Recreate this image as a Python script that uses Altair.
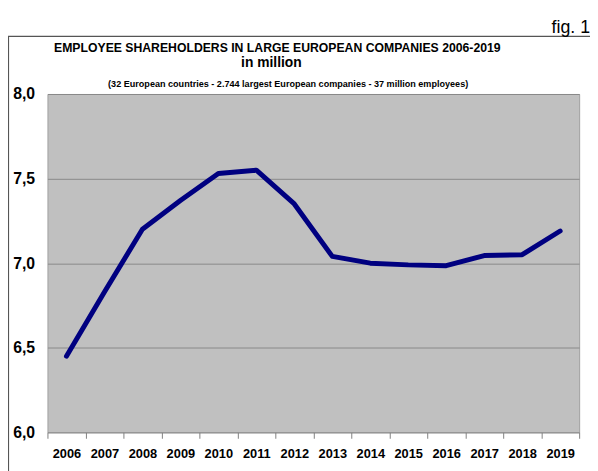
import altair as alt
import pandas as pd

years = [str(y) for y in range(2006, 2020)]
values = [6.45, 6.83, 7.20, 7.37, 7.53, 7.55, 7.35, 7.04, 7.00, 6.99, 6.985, 7.045, 7.05, 7.19]

title_lines = [
    "EMPLOYEE  SHAREHOLDERS IN LARGE EUROPEAN COMPANIES 2006-2019",
    "in million",
    "(32 European countries - 2.744 largest European companies - 37 million employees)",
]
fig_label = "fig. 1"

df = pd.DataFrame({"year": years, "value": values})

FONT = "Liberation Sans, Arial"

W, H = 539, 343

base = alt.Chart(df)

line = base.mark_line(color="#000080", strokeWidth=5, strokeCap="round", strokeJoin="round").encode(
    x=alt.X(
        "year:O",
        bandPosition=0.5,
        scale=alt.Scale(type="band", paddingInner=0, paddingOuter=0),
        axis=alt.Axis(
            title=None,
            labelFont=FONT,
            labelFontSize=13,
            labelFontWeight="bold",
            labelColor="#000000",
            labelAngle=0,
            labelPadding=9,
            tickBand="extent",
            tickSize=6,
            tickColor="#808080",
            domain=False,
            grid=False,
        ),
    ),
    y=alt.Y(
        "value:Q",
        scale=alt.Scale(domain=[6.0, 8.0], nice=False, zero=False),
        axis=alt.Axis(
            title=None,
            values=[6.0, 6.5, 7.0, 7.5, 8.0],
            labelExpr="replace(format(datum.value, '.1f'), '.', ',')",
            labelFont=FONT,
            labelFontSize=16,
            labelFontWeight="bold",
            labelColor="#000000",
            labelPadding=13,
            ticks=False,
            domain=False,
            grid=True,
            gridColor="#888888",
            gridWidth=1,
        ),
    ),
)

texts_df = pd.DataFrame({"t": [0]})
t1 = alt.Chart(texts_df).mark_text(
    text=title_lines[0], font=FONT, fontSize=12.4, fontWeight="bold", color="#000", align="center", baseline="alphabetic"
).encode(x=alt.value(233), y=alt.value(-43))
t2 = alt.Chart(texts_df).mark_text(
    text=title_lines[1], font=FONT, fontSize=14, fontWeight="bold", color="#000", align="center", baseline="alphabetic"
).encode(x=alt.value(227), y=alt.value(-27))
t3 = alt.Chart(texts_df).mark_text(
    text=title_lines[2], font=FONT, fontSize=9.2, fontWeight="bold", color="#000", align="center", baseline="alphabetic"
).encode(x=alt.value(244), y=alt.value(-7))
t4 = alt.Chart(texts_df).mark_text(
    text=fig_label, font=FONT, fontSize=18, color="#000", align="right", baseline="alphabetic"
).encode(x=alt.value(550), y=alt.value(-62))

border = alt.Chart(texts_df).mark_rect(fill=None, stroke="#555555", strokeWidth=1.2).encode(
    x=alt.value(-39.5), x2=alt.value(560), y=alt.value(-58.5), y2=alt.value(390)
)

chart = alt.layer(border, line, t1, t2, t3, t4).properties(
    width=W,
    height=H,
    autosize=alt.AutoSizeParams(type="none"),
    padding={"left": 40, "top": 84, "right": 11, "bottom": 36},
    background="white",
).configure_view(
    fill="#c0c0c0", stroke="#a0a0a0", strokeWidth=1
)

chart.save("out.html", embed_options={"renderer": "svg", "actions": False})
